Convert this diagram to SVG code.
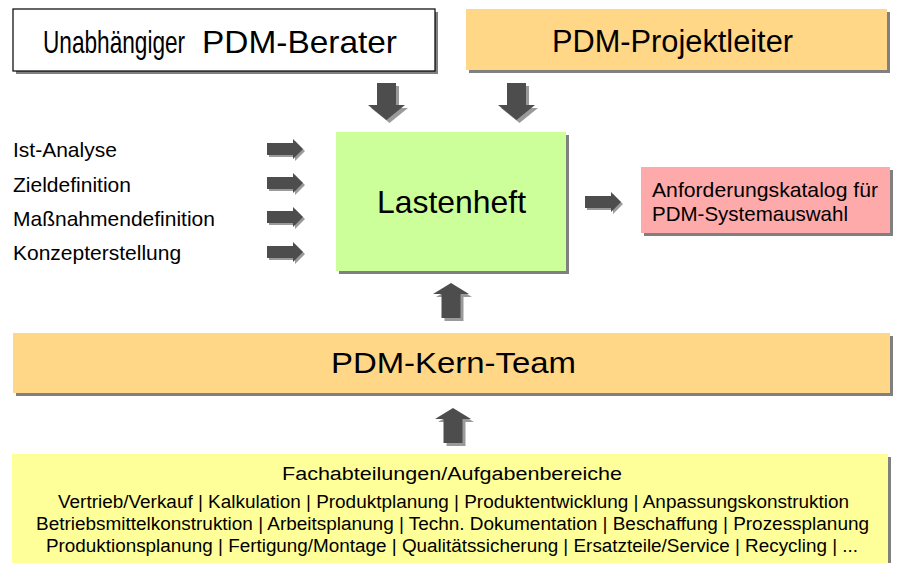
<svg xmlns="http://www.w3.org/2000/svg" width="898" height="563" viewBox="0 0 898 563">
<defs>
<style>
text{font-family:"Liberation Sans",Arial,sans-serif;fill:#000}
.sh{fill:#808080}
.arr{fill:#4d4d4d}
.ash{fill:#9a9a9a}
.big{font-size:31px}
.mid{font-size:21px}
.sm{font-size:18px}
</style>
<path id="down" d="M-9.5,0 H9.5 V22 H18.5 L0,37 L-18.5,22 H-9.5 Z"/>
<path id="up" d="M-9.5,0 H9.5 V-24 H18 L0,-35 L-18,-24 H-9.5 Z"/>
<path id="right" d="M0,-6 H26 V-10 L36,0 L26,10 V6 H0 Z"/>
</defs>
<rect width="898" height="563" fill="#fff"/>

<g id="connectors">
<g transform="translate(386.5,83)"><use href="#down" class="ash" x="3" y="3"/><use href="#down" class="arr"/></g>
<g transform="translate(516.5,83)"><use href="#down" class="ash" x="3" y="3"/><use href="#down" class="arr"/></g>
<g transform="translate(267,149)"><use href="#right" class="ash" x="2" y="2"/><use href="#right" class="arr"/></g>
<g transform="translate(267,183)"><use href="#right" class="ash" x="2" y="2"/><use href="#right" class="arr"/></g>
<g transform="translate(267,217)"><use href="#right" class="ash" x="2" y="2"/><use href="#right" class="arr"/></g>
<g transform="translate(267,252)"><use href="#right" class="ash" x="2" y="2"/><use href="#right" class="arr"/></g>
<g transform="translate(585,202)"><use href="#right" class="ash" x="2" y="2"/><use href="#right" class="arr"/></g>
<g transform="translate(451,318)"><use href="#up" class="ash" x="3" y="3"/><use href="#up" class="arr"/></g>
<g transform="translate(453,443)"><use href="#up" class="ash" x="3" y="3"/><use href="#up" class="arr"/></g>
</g>

<g id="berater">
<rect class="sh" x="16" y="12" width="422" height="62"/>
<rect x="13" y="9" width="422" height="62" fill="#fff" stroke="#000" stroke-width="1.2"/>
<text transform="translate(43,53) scale(0.707,1)" font-size="32">Unabhängiger</text>
<text x="202" y="53" font-size="32" textLength="195" lengthAdjust="spacingAndGlyphs">PDM-Berater</text>
</g>

<g id="projektleiter">
<rect class="sh" x="469" y="12" width="421" height="61"/>
<rect x="466" y="9" width="421" height="61" fill="#ffd787"/>
<text x="552" y="52" class="big" textLength="241" lengthAdjust="spacingAndGlyphs">PDM-Projektleiter</text>
</g>

<g id="inputs">
<text x="13" y="157" class="mid">Ist-Analyse</text>
<text x="13" y="192" class="mid">Zieldefinition</text>
<text x="13" y="226" class="mid">Maßnahmendefinition</text>
<text x="13" y="260" class="mid">Konzepterstellung</text>
</g>

<g id="lastenheft">
<rect class="sh" x="339" y="135" width="230" height="139"/>
<rect x="336" y="132" width="230" height="139" fill="#ccff99"/>
<text x="377" y="213" font-size="32" textLength="149" lengthAdjust="spacingAndGlyphs">Lastenheft</text>
</g>

<g id="katalog">
<rect class="sh" x="644" y="170" width="249" height="66"/>
<rect x="641" y="167" width="249" height="66" fill="#ffaaaa"/>
<text x="652" y="197" class="mid" textLength="226" lengthAdjust="spacingAndGlyphs">Anforderungskatalog für</text>
<text x="652" y="221" class="mid" textLength="196" lengthAdjust="spacingAndGlyphs">PDM-Systemauswahl</text>
</g>

<g id="kernteam">
<rect class="sh" x="16" y="336" width="877" height="60"/>
<rect x="13" y="333" width="877" height="60" fill="#ffd787"/>
<text x="331" y="373" font-size="30" textLength="245" lengthAdjust="spacingAndGlyphs">PDM-Kern-Team</text>
</g>

<g id="fachabteilungen">
<rect class="sh" x="15" y="457" width="876" height="110"/>
<rect x="12" y="454" width="876" height="112" fill="#ffff99"/>
<text x="282" y="480" class="sm" textLength="340" lengthAdjust="spacingAndGlyphs">Fachabteilungen/Aufgabenbereiche</text>
<text x="58" y="508" class="sm" textLength="791" lengthAdjust="spacingAndGlyphs">Vertrieb/Verkauf | Kalkulation | Produktplanung | Produktentwicklung | Anpassungskonstruktion</text>
<text x="36" y="530" class="sm" textLength="833" lengthAdjust="spacingAndGlyphs">Betriebsmittelkonstruktion | Arbeitsplanung | Techn. Dokumentation | Beschaffung | Prozessplanung</text>
<text x="46" y="552" class="sm" textLength="812" lengthAdjust="spacingAndGlyphs">Produktionsplanung | Fertigung/Montage | Qualitätssicherung | Ersatzteile/Service | Recycling | ...</text>
</g>
</svg>
